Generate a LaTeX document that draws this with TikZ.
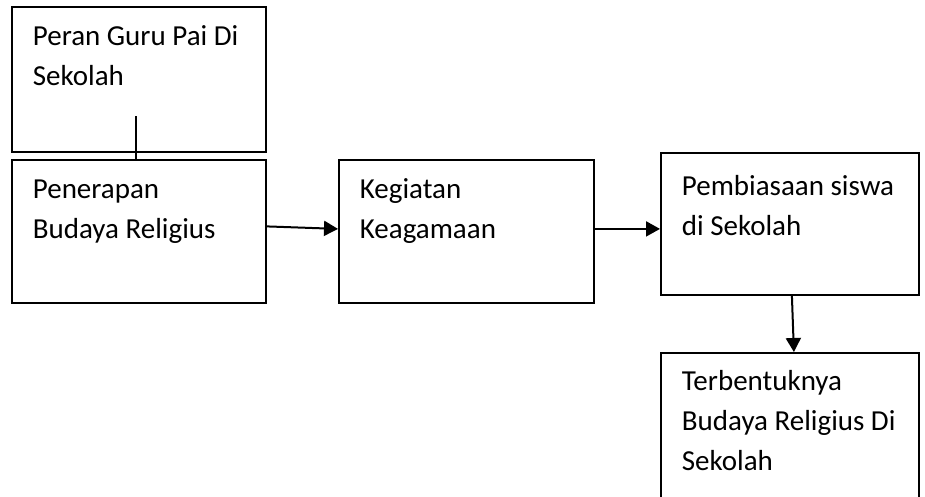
\documentclass[tikz,border=0pt]{standalone}
\usepackage{fontspec}
\setmainfont{Carlito}
\usetikzlibrary{arrows.meta}

\begin{document}
\begin{tikzpicture}[x=1pt,y=-1pt,
	kotak/.style={draw,line width=1.8pt,rectangle,anchor=north west,align=flush left,
		inner xsep=0pt,inner ysep=0pt,text width=254pt,text height=39pt,
		font=\fontsize{29}{40}\selectfont,
		execute at begin node={\leftskip=21pt\relax}},
	panah/.style={line width=2pt,-{Triangle[length=14pt,width=15pt]}}]

		\useasboundingbox (0,0) rectangle (925,496);

		\node[kotak,text depth=106pt] (peran) at (11,6) {Peran Guru Pai Di\\Sekolah};
		\node[kotak,text depth=104pt] (penerapan) at (11,159) {Penerapan\\Budaya Religius};
		\node[kotak,text depth=104pt,text width=255pt] (kegiatan) at (338,159) {Kegiatan\\Keagamaan};
		\node[kotak,text height=43pt,text depth=99pt,text width=258pt] (pembiasaan) at (660,152) {Pembiasaan siswa\\di Sekolah};
		\node[kotak,text height=38pt,text depth=112pt,text width=258pt] (terbentuk) at (660,352) {Terbentuknya\\Budaya Religius Di\\Sekolah};

		\coordinate (ujung) at (136,116);

		\draw[line width=2pt] (ujung) -- (ujung |- penerapan.north);
		\draw[panah] ([yshift=5pt]penerapan.east) -- ([yshift=2.5pt]kegiatan.west);
		\draw[panah] ([yshift=2.5pt]kegiatan.east) -- ([yshift=2.5pt]kegiatan.east -| pembiasaan.west);
		\draw[panah] ([xshift=2pt]pembiasaan.south) -- ([xshift=4pt]terbentuk.north);
		\end{tikzpicture}
\end{document}
